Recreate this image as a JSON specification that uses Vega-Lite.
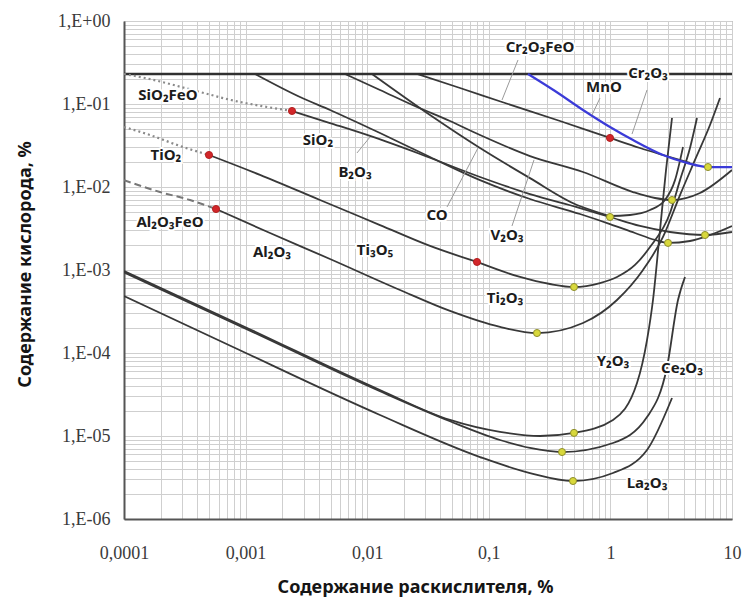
{
  "$schema": "https://vega.github.io/schema/vega-lite/v6.json",
  "width": 608,
  "height": 498,
  "autosize": "none",
  "padding": {"left": 124, "top": 21, "right": 11, "bottom": 82},
  "background": "white",
  "config": {"view": {"stroke": "#8c8c8c", "strokeWidth": 1}},
  "datasets": {
    "curves": [
      {"s": "H", "x": 0.0001, "y": 0.23}, {"s": "H", "x": 10, "y": 0.23},
      {"s": "SiO2FeO", "x": 0.0001, "y": 0.23}, {"s": "SiO2FeO", "x": 0.0001488, "y": 0.2057}, {"s": "SiO2FeO", "x": 0.0004217, "y": 0.1395}, {"s": "SiO2FeO", "x": 0.0007585, "y": 0.1117}, {"s": "SiO2FeO", "x": 0.0015, "y": 0.092}, {"s": "SiO2FeO", "x": 0.002408, "y": 0.0824},
      {"s": "TiO2", "x": 0.0001, "y": 0.0528}, {"s": "TiO2", "x": 0.0001636, "y": 0.0423}, {"s": "TiO2", "x": 0.0002887, "y": 0.0312}, {"s": "TiO2", "x": 0.0005, "y": 0.0243},
      {"s": "Al2O3FeO", "x": 0.0001, "y": 0.0121}, {"s": "Al2O3FeO", "x": 0.0001977, "y": 0.0087}, {"s": "Al2O3FeO", "x": 0.000349, "y": 0.00697}, {"s": "Al2O3FeO", "x": 0.0005709, "y": 0.00543},
      {"s": "SiO2", "x": 0.002408, "y": 0.0824}, {"s": "SiO2", "x": 0.004944, "y": 0.059}, {"s": "SiO2", "x": 0.01055, "y": 0.0412}, {"s": "SiO2", "x": 0.02718, "y": 0.025}, {"s": "SiO2", "x": 0.0847, "y": 0.0132}, {"s": "SiO2", "x": 0.2182, "y": 0.0082}, {"s": "SiO2", "x": 0.5623, "y": 0.00558}, {"s": "SiO2", "x": 0.9925, "y": 0.00435}, {"s": "SiO2", "x": 1.752, "y": 0.00339}, {"s": "SiO2", "x": 3.092, "y": 0.00287}, {"s": "SiO2", "x": 5.998, "y": 0.00264}, {"s": "SiO2", "x": 10, "y": 0.00287},
      {"s": "B2O3", "x": 0.001195, "y": 0.23}, {"s": "B2O3", "x": 0.002802, "y": 0.1214}, {"s": "B2O3", "x": 0.004944, "y": 0.0847}, {"s": "B2O3", "x": 0.01274, "y": 0.0447}, {"s": "B2O3", "x": 0.03285, "y": 0.023}, {"s": "B2O3", "x": 0.0847, "y": 0.0121}, {"s": "B2O3", "x": 0.2182, "y": 0.00717}, {"s": "B2O3", "x": 0.5623, "y": 0.00473}, {"s": "B2O3", "x": 0.9925, "y": 0.00358}, {"s": "B2O3", "x": 1.593, "y": 0.00279}, {"s": "B2O3", "x": 2.327, "y": 0.0023}, {"s": "B2O3", "x": 2.977, "y": 0.00212}, {"s": "B2O3", "x": 4.514, "y": 0.002236}, {"s": "B2O3", "x": 6.592, "y": 0.00264}, {"s": "B2O3", "x": 10, "y": 0.00339},
      {"s": "CO", "x": 0.01095, "y": 0.23}, {"s": "CO", "x": 0.03285, "y": 0.0737}, {"s": "CO", "x": 0.0847, "y": 0.0295}, {"s": "CO", "x": 0.2182, "y": 0.0128}, {"s": "CO", "x": 0.5313, "y": 0.00607}, {"s": "CO", "x": 0.8214, "y": 0.00486}, {"s": "CO", "x": 0.9925, "y": 0.00447}, {"s": "CO", "x": 1.449, "y": 0.0046}, {"s": "CO", "x": 2.117, "y": 0.00528}, {"s": "CO", "x": 2.812, "y": 0.00697}, {"s": "CO", "x": 3.399, "y": 0.0121}, {"s": "CO", "x": 3.954, "y": 0.0303},
      {"s": "V2O3", "x": 0.006569, "y": 0.23}, {"s": "V2O3", "x": 0.01274, "y": 0.1475}, {"s": "V2O3", "x": 0.02567, "y": 0.092}, {"s": "V2O3", "x": 0.04797, "y": 0.0624}, {"s": "V2O3", "x": 0.0847, "y": 0.0423}, {"s": "V2O3", "x": 0.2182, "y": 0.0236}, {"s": "V2O3", "x": 0.5951, "y": 0.01516}, {"s": "V2O3", "x": 1.534, "y": 0.0087}, {"s": "V2O3", "x": 2.327, "y": 0.00737}, {"s": "V2O3", "x": 3.211, "y": 0.00697}, {"s": "V2O3", "x": 5.456, "y": 0.00847}, {"s": "V2O3", "x": 10, "y": 0.016},
      {"s": "Cr2O3", "x": 0.02567, "y": 0.23}, {"s": "Cr2O3", "x": 0.058, "y": 0.1559}, {"s": "Cr2O3", "x": 0.1284, "y": 0.1057}, {"s": "Cr2O3", "x": 0.3851, "y": 0.0624}, {"s": "Cr2O3", "x": 0.9925, "y": 0.039}, {"s": "Cr2O3", "x": 1.752, "y": 0.0295}, {"s": "Cr2O3", "x": 2.708, "y": 0.0243}, {"s": "Cr2O3", "x": 4.514, "y": 0.0195},
      {"s": "MnO", "x": 0.2101, "y": 0.23}, {"s": "MnO", "x": 0.3503, "y": 0.1434}, {"s": "MnO", "x": 0.5951, "y": 0.0847}, {"s": "MnO", "x": 0.9925, "y": 0.0528}, {"s": "MnO", "x": 1.534, "y": 0.0368}, {"s": "MnO", "x": 2.708, "y": 0.0243}, {"s": "MnO", "x": 4.266, "y": 0.0195}, {"s": "MnO", "x": 6.347, "y": 0.0174}, {"s": "MnO", "x": 10, "y": 0.0174},
      {"s": "Ti3O5", "x": 0.0005, "y": 0.0243}, {"s": "Ti3O5", "x": 0.001313, "y": 0.014}, {"s": "Ti3O5", "x": 0.004091, "y": 0.00697}, {"s": "Ti3O5", "x": 0.01274, "y": 0.00348}, {"s": "Ti3O5", "x": 0.03285, "y": 0.00195}, {"s": "Ti3O5", "x": 0.08, "y": 0.00125},
      {"s": "Ti2O3", "x": 0.08, "y": 0.00125}, {"s": "Ti2O3", "x": 0.1806, "y": 0.000824}, {"s": "Ti2O3", "x": 0.3187, "y": 0.000678}, {"s": "Ti2O3", "x": 0.502, "y": 0.000624}, {"s": "Ti2O3", "x": 0.8214, "y": 0.000697}, {"s": "Ti2O3", "x": 1.133, "y": 0.000824}, {"s": "Ti2O3", "x": 1.593, "y": 0.00115}, {"s": "Ti2O3", "x": 2.117, "y": 0.00189}, {"s": "Ti2O3", "x": 3.092, "y": 0.00486}, {"s": "Ti2O3", "x": 3.736, "y": 0.0121}, {"s": "Ti2O3", "x": 4.514, "y": 0.0295}, {"s": "Ti2O3", "x": 5.153, "y": 0.0678},
      {"s": "Al2O3", "x": 0.0005709, "y": 0.00543}, {"s": "Al2O3", "x": 0.001588, "y": 0.00279}, {"s": "Al2O3", "x": 0.004944, "y": 0.001357}, {"s": "Al2O3", "x": 0.01861, "y": 0.000574}, {"s": "Al2O3", "x": 0.04797, "y": 0.000321}, {"s": "Al2O3", "x": 0.1236, "y": 0.000206}, {"s": "Al2O3", "x": 0.2491, "y": 0.000174}, {"s": "Al2O3", "x": 0.5951, "y": 0.00023}, {"s": "Al2O3", "x": 1.133, "y": 0.000435}, {"s": "Al2O3", "x": 1.854, "y": 0.001}, {"s": "Al2O3", "x": 2.708, "y": 0.0025}, {"s": "Al2O3", "x": 3.736, "y": 0.008}, {"s": "Al2O3", "x": 4.963, "y": 0.0212}, {"s": "Al2O3", "x": 6.592, "y": 0.0558}, {"s": "Al2O3", "x": 7.966, "y": 0.1181},
      {"s": "Y2O3", "x": 0.0001, "y": 0.000973}, {"s": "Y2O3", "x": 0.000989, "y": 0.000206}, {"s": "Y2O3", "x": 0.01274, "y": 0.0000358}, {"s": "Y2O3", "x": 0.04797, "y": 0.0000156}, {"s": "Y2O3", "x": 0.1236, "y": 0.0000112}, {"s": "Y2O3", "x": 0.2637, "y": 0.00001}, {"s": "Y2O3", "x": 0.502, "y": 0.0000109}, {"s": "Y2O3", "x": 1.0505, "y": 0.0000156}, {"s": "Y2O3", "x": 1.655, "y": 0.0000435}, {"s": "Y2O3", "x": 2.0, "y": 0.000143}, {"s": "Y2O3", "x": 2.24, "y": 0.000435}, {"s": "Y2O3", "x": 2.559, "y": 0.00303}, {"s": "Y2O3", "x": 2.866, "y": 0.016}, {"s": "Y2O3", "x": 3.211, "y": 0.0678},
      {"s": "Ce2O3", "x": 0.0001, "y": 0.000938}, {"s": "Ce2O3", "x": 0.000989, "y": 0.000198}, {"s": "Ce2O3", "x": 0.01274, "y": 0.00003456}, {"s": "Ce2O3", "x": 0.04797, "y": 0.00001504}, {"s": "Ce2O3", "x": 0.1236, "y": 0.00000895}, {"s": "Ce2O3", "x": 0.2182, "y": 0.00000717}, {"s": "Ce2O3", "x": 0.3999, "y": 0.00000641}, {"s": "Ce2O3", "x": 1.0505, "y": 0.00000823}, {"s": "Ce2O3", "x": 2.0, "y": 0.0000169}, {"s": "Ce2O3", "x": 2.921, "y": 0.0000678}, {"s": "Ce2O3", "x": 3.597, "y": 0.000435}, {"s": "Ce2O3", "x": 4.107, "y": 0.000824},
      {"s": "La2O3", "x": 0.0001, "y": 0.000486}, {"s": "La2O3", "x": 0.0007878, "y": 0.000118}, {"s": "La2O3", "x": 0.01274, "y": 0.0000179}, {"s": "La2O3", "x": 0.0847, "y": 0.00000558}, {"s": "La2O3", "x": 0.2182, "y": 0.00000358}, {"s": "La2O3", "x": 0.4925, "y": 0.00000287}, {"s": "La2O3", "x": 1.0505, "y": 0.00000358}, {"s": "La2O3", "x": 2.0, "y": 0.00000678}, {"s": "La2O3", "x": 3.211, "y": 0.0000287}
    ],
    "dots": [
      {"kind": "transition", "x": 0.002408, "y": 0.0824},
      {"kind": "transition", "x": 0.0005, "y": 0.0243},
      {"kind": "transition", "x": 0.0005709, "y": 0.00543},
      {"kind": "transition", "x": 0.08, "y": 0.00125},
      {"kind": "transition", "x": 0.9925, "y": 0.039},
      {"kind": "minimum", "x": 6.347, "y": 0.0174},
      {"kind": "minimum", "x": 3.211, "y": 0.00697},
      {"kind": "minimum", "x": 0.9925, "y": 0.00435},
      {"kind": "minimum", "x": 5.998, "y": 0.00264},
      {"kind": "minimum", "x": 2.977, "y": 0.00212},
      {"kind": "minimum", "x": 0.502, "y": 0.000624},
      {"kind": "minimum", "x": 0.2491, "y": 0.000174},
      {"kind": "minimum", "x": 0.502, "y": 0.0000109},
      {"kind": "minimum", "x": 0.3999, "y": 0.00000641},
      {"kind": "minimum", "x": 0.4925, "y": 0.00000287}
    ],
    "labels": [
      {"t": "Cr₂O₃FeO", "x": 0.2637, "y": 0.486},
      {"t": "MnO", "x": 0.885, "y": 0.1602},
      {"t": "Cr₂O₃", "x": 2.038, "y": 0.236},
      {"t": "SiO₂FeO", "x": 0.00023, "y": 0.1283},
      {"t": "SiO₂", "x": 0.00394, "y": 0.0368},
      {"t": "B₂O₃", "x": 0.00794, "y": 0.01516},
      {"t": "CO", "x": 0.0375, "y": 0.0046},
      {"t": "V₂O₃", "x": 0.1411, "y": 0.00264},
      {"t": "TiO₂", "x": 0.0002214, "y": 0.0243},
      {"t": "Ti₃O₅", "x": 0.0116, "y": 0.00174},
      {"t": "Ti₂O₃", "x": 0.1359, "y": 0.00046},
      {"t": "Al₂O₃FeO", "x": 0.0002389, "y": 0.00379},
      {"t": "Al₂O₃", "x": 0.001649, "y": 0.00165},
      {"t": "Y₂O₃", "x": 1.05, "y": 0.0000801},
      {"t": "Ce₂O₃", "x": 3.88, "y": 0.000066},
      {"t": "La₂O₃", "x": 2.0, "y": 0.00000272}
    ],
    "leaders": [
      {"x": 0.1738, "y": 0.339, "x2": 0.1284, "y2": 0.1117},
      {"x": 0.8214, "y": 0.1181, "x2": 0.706, "y2": 0.0737},
      {"x": 2.0, "y": 0.1475, "x2": 1.506, "y2": 0.0435},
      {"x": 0.00824, "y": 0.0257, "x2": 0.01055, "y2": 0.04},
      {"x": 0.04532, "y": 0.00574, "x2": 0.0815, "y2": 0.0295},
      {"x": 0.1551, "y": 0.00339, "x2": 0.2353, "y2": 0.0212}
    ]
  },
  "encoding": {
    "x": {
      "field": "x", "type": "quantitative",
      "scale": {"type": "log", "domain": [0.0001, 10], "nice": false},
      "axis": {
        "values": [0.0001, 0.0002, 0.0003, 0.0004, 0.0005, 0.0006, 0.0007, 0.0008, 0.0009, 0.001, 0.002, 0.003, 0.004, 0.005, 0.006, 0.007, 0.008, 0.009, 0.01, 0.02, 0.03, 0.04, 0.05, 0.06, 0.07, 0.08, 0.09, 0.1, 0.2, 0.3, 0.4, 0.5, 0.6, 0.7, 0.8, 0.9, 1, 2, 3, 4, 5, 6, 7, 8, 9, 10],
        "labelExpr": "abs(log(datum.value)/LN10-round(log(datum.value)/LN10))>0.001 ? '' : round(log(datum.value)/LN10)==-4 ? '0,0001' : round(log(datum.value)/LN10)==-3 ? '0,001' : round(log(datum.value)/LN10)==-2 ? '0,01' : round(log(datum.value)/LN10)==-1 ? '0,1' : round(log(datum.value)/LN10)==0 ? '1' : '10'",
        "labelFont": "Liberation Serif", "labelFontSize": 18, "labelColor": "#3a3a3a", "labelPadding": 25,
        "labelOverlap": false, "labelFlush": false, "labelBound": false,
        "ticks": false,
        "domainColor": "#555555", "domainWidth": 2,
        "grid": true, "gridWidth": 1, "gridColor": "#cfcfcf",
        "title": "Содержание раскислителя, %",
        "titleFont": "Noto Sans", "titleFontSize": 18, "titleFontWeight": "bold", "titleColor": "#151515",
        "titleX": 291, "titleY": 68, "titleAlign": "center", "titleBaseline": "middle"
      }
    },
    "y": {
      "field": "y", "type": "quantitative",
      "scale": {"type": "log", "domain": [0.000001, 1], "nice": false},
      "axis": {
        "values": [1e-6, 2e-6, 3e-6, 4e-6, 5e-6, 6e-6, 7e-6, 8e-6, 9e-6, 1e-5, 2e-5, 3e-5, 4e-5, 5e-5, 6e-5, 7e-5, 8e-5, 9e-5, 0.0001, 0.0002, 0.0003, 0.0004, 0.0005, 0.0006, 0.0007, 0.0008, 0.0009, 0.001, 0.002, 0.003, 0.004, 0.005, 0.006, 0.007, 0.008, 0.009, 0.01, 0.02, 0.03, 0.04, 0.05, 0.06, 0.07, 0.08, 0.09, 0.1, 0.2, 0.3, 0.4, 0.5, 0.6, 0.7, 0.8, 0.9, 1],
        "labelExpr": "abs(log(datum.value)/LN10-round(log(datum.value)/LN10))>0.001 ? '' : '1,E' + (round(log(datum.value)/LN10) >= 0 ? '+0' : '-0') + abs(round(log(datum.value)/LN10))",
        "labelFont": "Liberation Serif", "labelFontSize": 18, "labelColor": "#3a3a3a", "labelPadding": 14,
        "labelOverlap": false, "labelFlush": false, "labelBound": false,
        "ticks": false,
        "domainColor": "#555555", "domainWidth": 2,
        "grid": true, "gridWidth": 1, "gridColor": "#cfcfcf",
        "title": "Содержание кислорода, %",
        "titleFont": "Noto Sans", "titleFontSize": 18, "titleFontWeight": "bold", "titleColor": "#151515",
        "titleX": -99, "titleY": 243, "titleAngle": 270, "titleAlign": "center", "titleBaseline": "middle"
      }
    }
  },
  "layer": [
    {
      "data": {"name": "curves"},
      "transform": [{"filter": {"field": "s", "oneOf": ["SiO2", "B2O3", "CO", "V2O3", "Cr2O3", "Ti3O5", "Ti2O3", "Al2O3", "Y2O3", "Ce2O3", "La2O3"]}}],
      "mark": {"type": "line", "interpolate": "monotone", "clip": true, "color": "#383838", "strokeWidth": 1.8},
      "encoding": {"detail": {"field": "s"}}
    },
    {
      "data": {"name": "curves"},
      "transform": [{"filter": {"field": "s", "equal": "H"}}],
      "mark": {"type": "line", "clip": true, "color": "#303030", "strokeWidth": 2.5},
      "encoding": {}
    },
    {
      "data": {"name": "curves"},
      "transform": [{"filter": {"field": "s", "equal": "MnO"}}],
      "mark": {"type": "line", "interpolate": "monotone", "clip": true, "color": "#3b3bd8", "strokeWidth": 2.2},
      "encoding": {}
    },
    {
      "data": {"name": "curves"},
      "transform": [{"filter": {"field": "s", "oneOf": ["SiO2FeO", "TiO2"]}}],
      "mark": {"type": "line", "interpolate": "monotone", "clip": true, "color": "#8a8a8a", "strokeWidth": 2.2, "strokeDash": [2, 3]},
      "encoding": {"detail": {"field": "s"}}
    },
    {
      "data": {"name": "curves"},
      "transform": [{"filter": {"field": "s", "equal": "Al2O3FeO"}}],
      "mark": {"type": "line", "interpolate": "monotone", "clip": true, "color": "#777777", "strokeWidth": 2, "strokeDash": [7, 4]},
      "encoding": {}
    },
    {
      "data": {"name": "leaders"},
      "mark": {"type": "rule", "color": "#9a9a9a", "strokeWidth": 1},
      "encoding": {
        "x2": {"field": "x2"},
        "y2": {"field": "y2"}
      }
    },
    {
      "data": {"name": "dots"},
      "mark": {"type": "circle", "size": 50, "opacity": 1, "strokeWidth": 1},
      "encoding": {
        "fill": {"field": "kind", "type": "nominal", "scale": {"domain": ["transition", "minimum"], "range": ["#d2262a", "#d8d83c"]}, "legend": null},
        "stroke": {"field": "kind", "type": "nominal", "scale": {"domain": ["transition", "minimum"], "range": ["#b32020", "#8e8e2c"]}, "legend": null}
      }
    },
    {
      "data": {"name": "labels"},
      "mark": {"type": "text", "font": "Noto Sans", "fontSize": 15, "fontWeight": "bold", "align": "center", "baseline": "middle", "color": "white", "stroke": "white", "strokeWidth": 4},
      "encoding": {"text": {"field": "t"}}
    },
    {
      "data": {"name": "labels"},
      "mark": {"type": "text", "font": "Noto Sans", "fontSize": 15, "fontWeight": "bold", "align": "center", "baseline": "middle", "color": "#1c1c1c"},
      "encoding": {"text": {"field": "t"}}
    }
  ]
}
